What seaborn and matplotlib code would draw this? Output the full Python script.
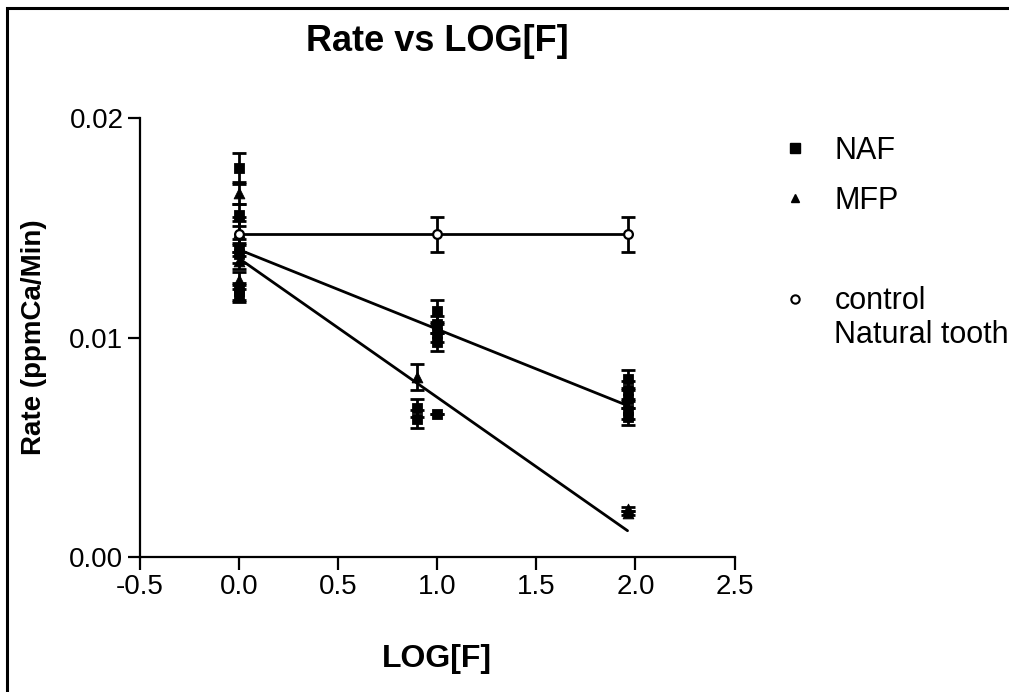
import matplotlib
matplotlib.use("Agg")
import matplotlib.pyplot as plt
import seaborn as sns
import pandas as pd
from matplotlib.patches import Rectangle
from matplotlib.lines import Line2D

# ---- data ----
naf_logf = [0.0, 0.0, 0.0, 0.0, 0.0, 0.0, 0.90, 0.90, 1.0, 1.0, 1.0, 1.0, 1.0,
            1.96, 1.96, 1.96, 1.96, 1.96]
naf_rate = [0.0177, 0.0156, 0.0141, 0.0138, 0.0121, 0.0120, 0.0068, 0.0063,
            0.0112, 0.0106, 0.0102, 0.0098, 0.0065,
            0.0081, 0.0076, 0.0072, 0.0067, 0.0064]
naf_err = [0.0007, 0.0005, 0.0004, 0.0004, 0.0004, 0.0004, 0.0004, 0.0004,
           0.0005, 0.0004, 0.0004, 0.0004, 0.0,
           0.0004, 0.0004, 0.0004, 0.0004, 0.0004]

mfp_logf = [0.0, 0.0, 0.0, 0.0, 0.90, 1.96, 1.96]
mfp_rate = [0.0166, 0.0148, 0.0135, 0.0126, 0.0082, 0.0022, 0.0020]
mfp_err = [0.0005, 0.0005, 0.0004, 0.0004, 0.0006, 0.0001, 0.0001]

ctrl_logf = [0.0, 1.0, 1.96]
ctrl_rate = [0.0147, 0.0147, 0.0147]
ctrl_err = [0.0008, 0.0008, 0.0008]

fit_logf = [0.0, 1.96]
naf_fit_rate = [0.0140, 0.0069]
mfp_fit_rate = [0.0136, 0.0012]

x_ticks = [-0.5, 0.0, 0.5, 1.0, 1.5, 2.0, 2.5]
y_ticks = [0.00, 0.01, 0.02]

series_labels = ["NAF", "MFP", "control"]
ctrl_label_line2 = "Natural tooth"
title = "Rate vs LOG[F]"
x_label = "LOG[F]"
y_label = "Rate (ppmCa/Min)"

# ---- style ----
sns.set_style("ticks")
plt.rcParams["font.family"] = ["Liberation Sans", "DejaVu Sans"]
plt.rcParams["text.color"] = "black"
plt.rcParams["axes.labelcolor"] = "black"

fig = plt.figure(figsize=(10.09, 6.92), dpi=100)
ax = fig.add_axes([0.1388, 0.195, 0.728 - 0.1388, 0.8295 - 0.195])

# frame around the figure (scan border)
fig.patches.append(Rectangle((7 / 1009, -0.1), 1.2, 1 - 8 / 692 + 0.1,
                             transform=fig.transFigure, fill=False,
                             edgecolor="black", linewidth=2.2))

# fit lines
fits = pd.DataFrame({
    "logf": fit_logf * 3,
    "rate": naf_fit_rate + mfp_fit_rate + [ctrl_rate[0], ctrl_rate[-1]],
    "grp": ["NAF"] * 2 + ["MFP"] * 2 + ["ctrl"] * 2,
})
sns.lineplot(data=fits, x="logf", y="rate", hue="grp", estimator=None,
             palette={"NAF": "black", "MFP": "black", "ctrl": "black"},
             linewidth=2.0, legend=False, ax=ax)

# error bars
for xs, ys, es in [(naf_logf, naf_rate, naf_err),
                   (mfp_logf, mfp_rate, mfp_err),
                   (ctrl_logf, ctrl_rate, ctrl_err)]:
    ax.errorbar(xs, ys, yerr=es, fmt="none", ecolor="black",
                elinewidth=2.0, capsize=5, capthick=2.0, zorder=3)

# markers
sns.scatterplot(x=naf_logf, y=naf_rate, marker="s", s=55, color="black",
                edgecolor="black", ax=ax, zorder=4)
sns.scatterplot(x=mfp_logf, y=mfp_rate, marker="^", s=60, color="black",
                edgecolor="black", ax=ax, zorder=4)
sns.scatterplot(x=ctrl_logf, y=ctrl_rate, marker="o", s=40, color="white",
                edgecolor="black", linewidth=1.6, ax=ax, zorder=5)

ax.set_xlim(-0.5, 2.5)
ax.set_ylim(0.0, 0.02)
ax.set_xticks(x_ticks)
ax.set_xticklabels([f"{v:.1f}" for v in x_ticks])
ax.set_yticks(y_ticks)
ax.set_yticklabels([f"{v:.2f}" for v in y_ticks])
ax.tick_params(axis="both", labelsize=20, length=9, width=1.6, direction="out",
               colors="black", pad=3)
for side in ["top", "right"]:
    ax.spines[side].set_visible(False)
for side in ["left", "bottom"]:
    ax.spines[side].set_linewidth(1.6)
    ax.spines[side].set_color("black")

ax.set_xlabel(x_label, fontsize=23, fontweight="bold", labelpad=32)
ax.set_ylabel(y_label, fontsize=20, fontweight="bold", labelpad=16)
ax.set_title(title, fontsize=26, fontweight="bold", pad=48)

handles = [
    Line2D([], [], linestyle="none", marker="s", markersize=7, color="black"),
    Line2D([], [], linestyle="none", marker="^", markersize=6, color="black"),
    Line2D([], [], linestyle="none"),
    Line2D([], [], linestyle="none", marker="o", markersize=6,
           markerfacecolor="white", markeredgecolor="black", markeredgewidth=1.5),
]
labels = [series_labels[0], series_labels[1], " ", series_labels[2]]
leg = ax.legend(handles, labels, loc="upper left",
                bbox_to_anchor=(1.066, 0.987), frameon=False, fontsize=22,
                handlelength=0.6, handletextpad=1.0, labelspacing=0.66,
                borderaxespad=0)
ax.text(1.168, 0.506, ctrl_label_line2, transform=ax.transAxes, fontsize=22,
        va="center", ha="left", clip_on=False)

fig.savefig("out.png", dpi=100)
